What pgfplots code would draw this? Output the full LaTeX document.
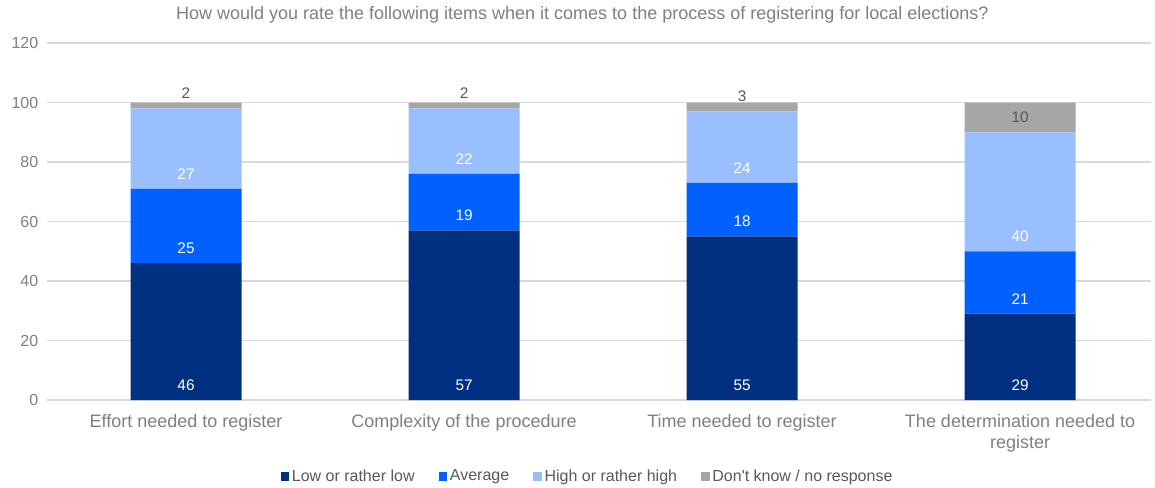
\documentclass[border=0pt]{standalone}
\usepackage{pgfplots}
\pgfplotsset{compat=1.18}
\usepackage{pgfplotstable}
\usepackage{fontspec}
\setmainfont{Liberation Sans}
\definecolor{cnavy}{HTML}{00307F}
\definecolor{cblue}{HTML}{0061FF}
\definecolor{clight}{HTML}{99BFFF}
\definecolor{cgray}{HTML}{A6A6A6}
\definecolor{ctext}{HTML}{7F7F7F}
\definecolor{cdark}{HTML}{595959}
\definecolor{cgrid}{HTML}{D9D9D9}

\pgfplotstableread{
x low avg high dk
0 46 25 27 2
1 57 19 22 2
2 55 18 24 3
3 29 21 40 10
}\datatable

\pgfplotstableread{
x y lab
0 5 46
0 51 25
0 76 27
1 5 57
1 62 19
1 81 22
2 5 55
2 60 18
2 78 24
3 5 29
3 34 21
3 55 40
}\whitelabels

\pgfplotstableread{
x y lab
0 103 2
1 103 2
2 102 3
3 95 10
}\graylabels

\pgfplotsset{
  geom/.style={
    scale only axis,
    width=827.8pt, height=267.75pt,
    at={(35.25pt,65.25pt)}, anchor=south west,
    xmin=-0.5, xmax=3.47, ymin=0, ymax=120,
  },
  legsq/.style={legend image code/.code={\fill[##1] (0pt,-3.6pt) rectangle (6.5pt,3.2pt);}},
}

\begin{document}
\begin{tikzpicture}
\begin{axis}[
  geom,
  ybar stacked, bar width=83.25pt,
  axis line style={draw=none},
  major tick length=0pt,
  ytick={0,20,...,120},
  ymajorgrids, grid style={cgrid, line width=0.8pt},
  xtick={0,1,2,3},
  xticklabels={Effort needed to register, Complexity of the procedure, Time needed to register, {The determination needed to\\register}},
  xticklabel style={align=center, font=\fontsize{13.5}{15.75}\selectfont, text=ctext, yshift=-7pt},
  yticklabel style={font=\fontsize{12}{14}\selectfont, text=ctext, xshift=-3pt},
  /pgf/number format/assume math mode=true,
  title={How would you rate the following items when it comes to the process of registering for local elections?},
  title style={at={(0.485,1)}, anchor=center, yshift=15pt, font=\fontsize{13.5}{15}\selectfont, text=ctext},
  legend columns=4,
  legend style={draw=none, at={(0.49,-0.214)}, anchor=center, font=\fontsize{12}{14}\selectfont, text=cdark,
    /tikz/every even column/.append style={column sep=16pt}},
  legend cell align=left,
]
\addplot[fill=cnavy, draw=none, legsq] table[x=x, y=low] {\datatable};
\addlegendentry{Low or rather low}
\addplot[fill=cblue, draw=none, legsq] table[x=x, y=avg] {\datatable};
\addlegendentry{Average}
\addplot[fill=clight, draw=none, legsq] table[x=x, y=high] {\datatable};
\addlegendentry{High or rather high}
\addplot[fill=cgray, draw=none, legsq] table[x=x, y=dk] {\datatable};
\addlegendentry{Don\textquotesingle t know / no response}
\end{axis}
\begin{axis}[geom, hide axis]
\addplot[draw=none, mark=none, nodes near coords, point meta=explicit symbolic,
  nodes near coords style={anchor=center, text=white, font=\fontsize{11.5}{13}\selectfont}]
  table[x=x, y=y, meta=lab] {\whitelabels};
\addplot[draw=none, mark=none, nodes near coords, point meta=explicit symbolic,
  nodes near coords style={anchor=center, text=cdark, font=\fontsize{11.5}{13}\selectfont}]
  table[x=x, y=y, meta=lab] {\graylabels};
\end{axis}
\pgfresetboundingbox
\path[use as bounding box] (0,0) rectangle (866.25pt,365.25pt);
\end{tikzpicture}
\end{document}
